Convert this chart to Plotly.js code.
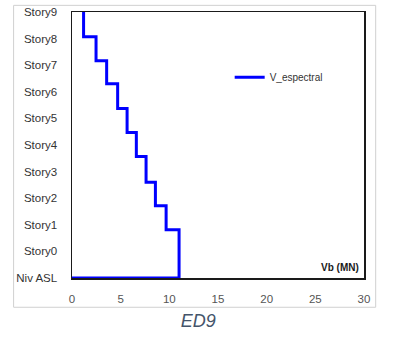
<!DOCTYPE html>
<html>
<head>
<meta charset="utf-8">
<script src="https://cdn.plot.ly/plotly-3.0.1.min.js"></script>
<style>html,body{margin:0;padding:0;background:#fff;}#chart{width:394px;height:338px;}</style>
</head>
<body>
<div id="chart"></div>
<script>
// Tick labels for the vertical axis (levels, bottom to top)
var levelLabels = ["Niv ASL","Story0","Story1","Story2","Story3","Story4","Story5","Story6","Story7","Story8","Story9"];
var levelTicks = [0,1,2,3,4,5,6,7,8,9,10];
// Step series: shear Vb (MN) and level where each step ends
var vbShear = [0, 11.0, 9.67, 8.57, 7.61, 6.61, 5.66, 4.69, 3.56, 2.47, 1.19];
var stepLevel = [0, 1.81, 2.72, 3.60, 4.57, 5.47, 6.37, 7.30, 8.17, 9.07, 10.0];
var xTicks = [0,5,10,15,20,25,30];
var seriesName = "V_espectral";
var chartTitle = "ED9";
var xLabel = "Vb (MN)";

var font = "Liberation Sans, Arial, sans-serif";
var trace = {
  x: vbShear, y: stepLevel, type: "scatter", mode: "lines",
  line: {shape: "hv", color: "#0000ff", width: 3},
  name: seriesName, showlegend: true
};
var layout = {
  width: 394, height: 338,
  margin: {l: 72, r: 30, t: 12, b: 60},
  paper_bgcolor: "#ffffff", plot_bgcolor: "#ffffff",
  font: {family: font, size: 11, color: "#333333"},
  title: {text: chartTitle, x: 0.503, xanchor: "center", y: 0.05, yref: "container", yanchor: "middle",
          font: {family: font, size: 18, color: "#44546a", style: "italic"}},
  xaxis: {range: [0, 30], tickvals: xTicks, ticks: "outside", ticklen: 10, tickcolor: "rgba(0,0,0,0)",
          showgrid: false, zeroline: false, showline: true, linecolor: "#1a1a1a", linewidth: 1.5, mirror: true,
          tickfont: {size: 11.5, color: "#555555"}},
  yaxis: {range: [0, 10], tickvals: levelTicks, ticktext: levelLabels, ticks: "outside", ticklen: 11,
          tickcolor: "rgba(0,0,0,0)", showgrid: false, zeroline: false, showline: true, linecolor: "#1a1a1a",
          linewidth: 1.5, mirror: true, tickfont: {size: 11.5, color: "#333333"}},
  showlegend: true,
  legend: {x: 0.54, y: 0.755, xanchor: "left", yanchor: "middle", bgcolor: "rgba(0,0,0,0)",
           font: {size: 10, color: "#333333"}, itemwidth: 30},
  annotations: [{x: 30, y: 0, xref: "x", yref: "y", xanchor: "right", yanchor: "bottom", xshift: -3, yshift: 3,
                 text: "<b>" + xLabel + "</b>", showarrow: false, font: {size: 10, color: "#1a1a1a"}}],
  shapes: [{type: "rect", xref: "paper", yref: "paper", x0: -0.2, x1: 1.04, y0: -0.11, y1: 1.025,
            line: {color: "#d0d0d0", width: 1}, layer: "below"}]
};
Plotly.newPlot("chart", [trace], layout, {displayModeBar: false, staticPlot: true});
</script>
</body>
</html>
